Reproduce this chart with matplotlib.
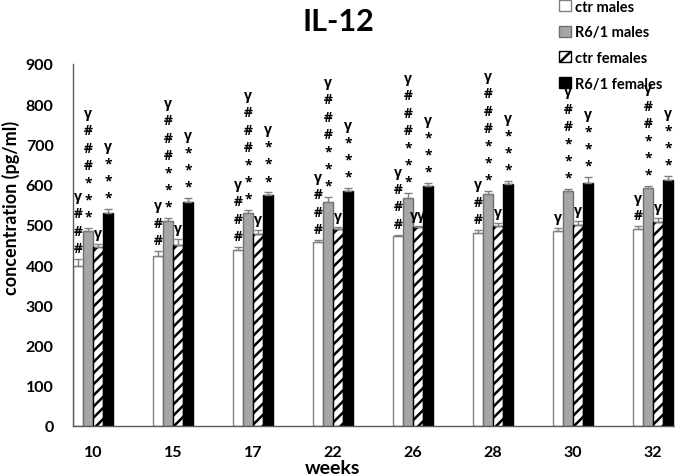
import matplotlib
matplotlib.use("Agg")
import matplotlib.pyplot as plt
import numpy as np

plt.rcParams['font.family'] = ['Lato', 'Open Sans', 'DejaVu Sans']
plt.rcParams['font.weight'] = 'bold'
plt.rcParams['hatch.linewidth'] = 1.8

weeks = ['10', '15', '17', '22', '26', '28', '30', '32']
series = ['ctr males', 'R6/1 males', 'ctr females', 'R6/1 females']

ctr_males = [398, 422, 437, 457, 472, 480, 485, 490]
r61_males = [485, 510, 530, 557, 567, 577, 584, 592]
ctr_females = [445, 450, 477, 490, 495, 497, 500, 507]
r61_females = [530, 557, 574, 584, 597, 602, 604, 612]

ctr_males_err = [17, 13, 8, 5, 3, 7, 7, 7]
r61_males_err = [7, 7, 7, 12, 12, 7, 5, 5]
ctr_females_err = [7, 15, 10, 5, 2, 8, 10, 10]
r61_females_err = [10, 10, 7, 8, 7, 7, 15, 10]

# significance annotations (top to bottom)
ann_ctr_males = ['γ###', 'γ##', 'γ###', 'γ###', 'γ###', 'γ##', 'γ', 'γ#']
ann_r61_males = ['γ###***', 'γ###***', 'γ###***', 'γ###***', 'γ###***', 'γ###***', 'γ##***', 'γ##***']
ann_ctr_females = ['γ', 'γ', 'γ', 'γ', 'γγ', 'γ', 'γ', 'γ']
ann_r61_females = ['γ***', 'γ***', 'γ***', 'γ***', 'γ***', 'γ***', 'γ***', 'γ***']

values = [ctr_males, r61_males, ctr_females, r61_females]
errors = [ctr_males_err, r61_males_err, ctr_females_err, r61_females_err]
anns = [ann_ctr_males, ann_r61_males, ann_ctr_females, ann_r61_females]

styles = [
    dict(color='white', edgecolor='#808080', hatch=None),
    dict(color='#a6a6a6', edgecolor='#6e6e6e', hatch=None),
    dict(color='white', edgecolor='black', hatch='///'),
    dict(color='black', edgecolor='black', hatch=None),
]

fig = plt.figure(figsize=(6.75, 4.77), dpi=100)
ax = fig.add_axes([73/675, 1-427/477, (675-73)/675, 362/477])

x = np.arange(len(weeks))
w = 0.125
offsets = [-1.5*w, -0.5*w, 0.5*w, 1.5*w]
handles = []
for i in range(4):
    st = styles[i]
    b = ax.bar(x + offsets[i], values[i], width=w, color=st['color'],
               edgecolor=st['edgecolor'], hatch=st['hatch'], linewidth=1.0,
               label=series[i], zorder=2)
    ax.errorbar(x + offsets[i], values[i], yerr=[np.zeros(len(weeks)), errors[i]],
                fmt='none', ecolor='#808080', elinewidth=1.0, capsize=3, capthick=1.0, zorder=3)
    handles.append(b)
    for j in range(len(weeks)):
        a = anns[i][j]
        txt = a if a == 'γγ' else '\n'.join(list(a))
        ax.annotate(txt, xy=(x[j] + offsets[i], values[i][j] + errors[i][j]),
                    xytext=(0, 3), textcoords='offset points', ha='center', va='bottom',
                    fontsize=10, fontweight='bold', linespacing=1.3,
                    family=['Open Sans', 'DejaVu Sans'], zorder=4)

ax.set_xlim(-0.25, 7.275)
ax.set_ylim(0, 900)
ax.set_yticks(range(0, 901, 100))
ax.set_xticks(x)
ax.set_xticklabels(weeks)
ax.tick_params(axis='both', length=0, labelsize=11.5)
ax.tick_params(axis='y', pad=14)
ax.tick_params(axis='x', pad=14)
for lab in ax.get_xticklabels() + ax.get_yticklabels():
    lab.set_fontweight('bold')
for s in ['top', 'right']:
    ax.spines[s].set_visible(False)
for s in ['left', 'bottom']:
    ax.spines[s].set_color('#595959')
    ax.spines[s].set_linewidth(1.0)

fig.text(11/675, 1-208/477, 'concentration (pg/ml)', rotation=90, ha='center', va='center',
         fontsize=13, fontweight='bold')
fig.text(333/675, 1-469/477, 'weeks', ha='center', va='center', fontsize=14, fontweight='bold')
fig.text(338/675, 1-22/477, 'IL-12', ha='center', va='center', fontsize=22, fontweight='bold')

leg = fig.legend(handles=handles, labels=series, loc='upper left',
                 bbox_to_anchor=(553/675, 1.011), frameon=False, fontsize=10.5,
                 handlelength=0.8, handleheight=0.8, handletextpad=0.3, labelspacing=0.8,
                 borderaxespad=0)
for t in leg.get_texts():
    t.set_fontweight('bold')

fig.savefig('out.png', dpi=100)
